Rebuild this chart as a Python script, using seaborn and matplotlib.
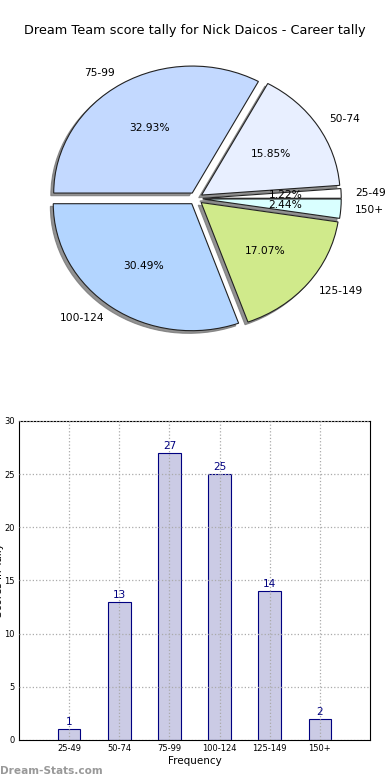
"""Dream Team score tally for Nick Daicos - pie and bar view."""

import matplotlib
matplotlib.use("Agg")
import matplotlib.pyplot as plt
import seaborn as sns
import pandas as pd

# data
ranges = ["25-49", "50-74", "75-99", "100-124", "125-149", "150+"]
counts = [1, 13, 27, 25, 14, 2]
pie_colors = ["#ffffff", "#e8efff", "#c3d9ff", "#b3d5ff", "#d0ea8b", "#d9ffff"]
title = "Dream Team score tally for Nick Daicos - Career tally"

sns.set_style("white")
plt.rcParams["font.family"] = ["DejaVu Sans"]
plt.rcParams["text.color"] = "black"

fig = plt.figure(figsize=(3.9, 7.8), dpi=100)
fig.text(0.5, 0.961, title, ha="center", va="center", fontsize=9.3)

# pie (old style: stretched, exploded, shadowed)
ax_pie = fig.add_axes([0.058, 0.542, 0.888, 0.407])
ax_pie.pie(
    counts,
    labels=ranges,
    colors=pie_colors,
    explode=[0.05] * len(counts),
    autopct=lambda p: f"{p:.2f}%",
    pctdistance=0.6,
    labeldistance=1.1,
    startangle=0,
    shadow={"ox": -0.015, "oy": -0.015, "facecolor": "#777777",
            "edgecolor": "#777777", "alpha": 0.8},
    wedgeprops={"edgecolor": "#222222", "linewidth": 0.8},
    textprops={"fontsize": 7.7, "color": "black"},
)
ax_pie.set_aspect("auto")
ax_pie.set_xlim(-1.25, 1.25)
ax_pie.set_ylim(-1.25, 1.25)
ax_pie.axis("off")

# bar chart
ax_bar = fig.add_axes([0.0487, 0.0513, 0.9, 0.409])
df = pd.DataFrame({"range": ranges, "count": counts})
sns.barplot(
    data=df, x="range", y="count", ax=ax_bar,
    width=0.45, color="#cbcbe5", saturation=1,
    edgecolor="#000080", linewidth=0.8,
)
for i, v in enumerate(counts):
    ax_bar.text(i, v + 0.2, str(v), ha="center", va="bottom",
                fontsize=7.5, color="#000080")

ax_bar.set_xlim(-1, 6)
ax_bar.set_ylim(0, 30)
ax_bar.set_yticks(range(0, 31, 5))
ax_bar.grid(True, linestyle=":", color="#aaaaaa", linewidth=0.9)
ax_bar.set_axisbelow(False)
ax_bar.tick_params(labelsize=6, direction="in", length=3, pad=3,
                   labelcolor="black")
ax_bar.set_xlabel("Frequency", fontsize=7.5, labelpad=2, color="black")
ax_bar.set_ylabel("Scores in Tally", fontsize=7.5, color="black")
ax_bar.yaxis.set_label_coords(-0.043, 0.5)
for s in ax_bar.spines.values():
    s.set_color("black")
    s.set_linewidth(0.8)

fig.text(0.0, 0.005, "Dream-Stats.com", fontsize=7.6, color="#999999",
         fontweight="bold", ha="left", va="bottom")

fig.savefig("out.png", dpi=100)
